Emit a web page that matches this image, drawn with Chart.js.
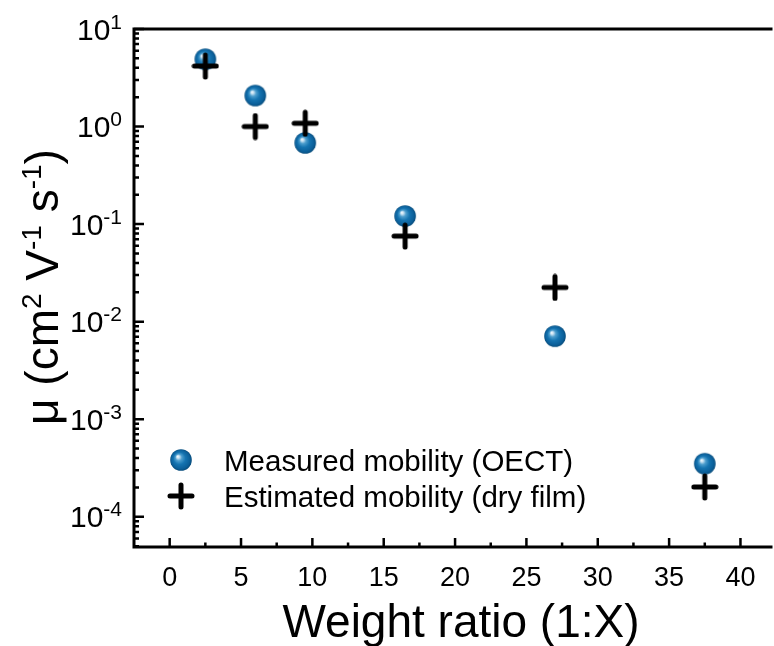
<!DOCTYPE html>
<html>
<head>
<meta charset="utf-8">
<title>Mobility vs weight ratio</title>
<script src="https://cdn.jsdelivr.net/npm/chart.js@4.4.1/dist/chart.umd.min.js"></script>
<style>
  body { margin: 0; background: #fff; }
  canvas { display: block; }
</style>
</head>
<body>
<canvas id="mobility" width="774" height="646"></canvas>
<script>
// weight ratio 1:X and the two mobility series (cm2/Vs)
const ratios = [2.5, 6, 9.5, 16.5, 27, 37.5];
const measured = [4.9, 2.08, 0.68, 0.121, 0.0071, 3.5e-4];
const estimated = [4.17, 1.0, 1.08, 0.0754, 0.0224, 2.02e-4];
const seriesLabels = ['Measured mobility (OECT)', 'Estimated mobility (dry film)'];
const xTicks = [0, 5, 10, 15, 20, 25, 30, 35, 40];
const yExponents = [-4, -3, -2, -1, 0, 1];

const FONT = 'Arial, "Liberation Sans", sans-serif';

// shaded blue ball used as the marker for measured values
function makeSphere() {
  const c = document.createElement('canvas');
  c.width = 24; c.height = 24;
  const g = c.getContext('2d');
  const grad = g.createRadialGradient(8.6, 8.4, 0, 12, 12, 11);
  grad.addColorStop(0, '#f6fbff');
  grad.addColorStop(0.12, '#cde4f3');
  grad.addColorStop(0.3, '#4c9dcd');
  grad.addColorStop(0.55, '#1574b1');
  grad.addColorStop(0.85, '#0b5f99');
  grad.addColorStop(1, '#074a78');
  g.fillStyle = grad;
  g.beginPath();
  g.arc(12, 12, 10.8, 0, Math.PI * 2);
  g.fill();
  return c;
}

// thick plus with rounded ends
function makePlus() {
  const c = document.createElement('canvas');
  c.width = 28; c.height = 28;
  const g = c.getContext('2d');
  g.strokeStyle = '#000';
  g.lineWidth = 5;
  g.lineCap = 'round';
  g.beginPath();
  g.moveTo(3, 14); g.lineTo(25, 14);
  g.moveTo(14, 3); g.lineTo(14, 25);
  g.stroke();
  return c;
}

const sphere = makeSphere();
const plus = makePlus();

// draws a run of [text, size, raise] pieces starting at x, returns end x
function drawRich(ctx, parts, x, y) {
  for (const [txt, size, raise] of parts) {
    ctx.font = size + 'px ' + FONT;
    ctx.fillText(txt, x, y - raise);
    x += ctx.measureText(txt).width;
  }
  return x;
}
function richWidth(ctx, parts) {
  let w = 0;
  for (const [txt, size] of parts) {
    ctx.font = size + 'px ' + FONT;
    w += ctx.measureText(txt).width;
  }
  return w;
}

const frame = {
  id: 'frame',
  beforeDatasetsDraw(chart) {
    const { ctx, chartArea: a, scales: { x, y } } = chart;
    ctx.save();
    ctx.strokeStyle = '#000';
    ctx.fillStyle = '#000';

    // left, bottom and top border
    ctx.lineWidth = 3;
    ctx.lineCap = 'square';
    ctx.beginPath();
    ctx.moveTo(a.right + 2, a.top); ctx.lineTo(a.left, a.top);
    ctx.lineTo(a.left, a.bottom); ctx.lineTo(a.right + 2, a.bottom);
    ctx.stroke();

    // inward ticks on x
    ctx.lineCap = 'butt';
    ctx.lineWidth = 2.5;
    ctx.beginPath();
    for (const v of xTicks) {
      const px = x.getPixelForValue(v);
      ctx.moveTo(px, a.bottom); ctx.lineTo(px, a.bottom - 9);
      const mx = x.getPixelForValue(v + 2.5);
      if (mx < a.right) { ctx.moveTo(mx, a.bottom); ctx.lineTo(mx, a.bottom - 4.5); }
    }
    ctx.stroke();

    // inward ticks on y, decades and log minors
    ctx.beginPath();
    for (let e = -5; e <= 1; e++) {
      for (let m = 1; m <= 9; m++) {
        const v = m * Math.pow(10, e);
        if (v < y.min || v > y.max) continue;
        const py = y.getPixelForValue(v);
        const len = m === 1 ? 10 : 5;
        ctx.moveTo(a.left, py); ctx.lineTo(a.left + len, py);
      }
    }
    ctx.stroke();

    // x tick labels
    ctx.textAlign = 'center';
    ctx.textBaseline = 'alphabetic';
    ctx.font = '27px ' + FONT;
    for (const v of xTicks) {
      ctx.fillText(String(v), x.getPixelForValue(v), 586);
    }

    // y tick labels as 10 with superscript exponent
    ctx.textAlign = 'left';
    for (const e of yExponents) {
      const py = y.getPixelForValue(Math.pow(10, e));
      const parts = [['10', 30, 0], [e < 0 ? '-' + (-e) : String(e), 21, 11]];
      const w = richWidth(ctx, parts);
      drawRich(ctx, parts, 122 - w, py + 10.7);
    }

    // x title
    ctx.font = '46px ' + FONT;
    ctx.textAlign = 'center';
    ctx.fillText('Weight ratio (1:X)', 461, 637);

    // y title, rotated
    ctx.textAlign = 'left';
    const title = [['\u03bc (cm', 46, 0], ['2', 28, 17], [' V', 46, 0], ['-1', 28, 17],
                   [' s', 46, 0], ['-1', 28, 17], [')', 46, 0]];
    const tw = richWidth(ctx, title);
    ctx.translate(58, 287);
    ctx.rotate(-Math.PI / 2);
    drawRich(ctx, title, -tw / 2, 0);
    ctx.restore();
  },
  afterDraw(chart) {
    // legend inside the plot, lower left
    const ctx = chart.ctx;
    ctx.save();
    const marks = [sphere, plus];
    const rows = [460, 496];
    ctx.fillStyle = '#000';
    ctx.font = '29.5px ' + FONT;
    ctx.textAlign = 'left';
    ctx.textBaseline = 'alphabetic';
    seriesLabels.forEach((lab, i) => {
      const m = marks[i];
      ctx.drawImage(m, 181 - m.width / 2, rows[i] - m.height / 2);
      ctx.fillText(lab, 224, rows[i] + 10.5);
    });
    ctx.restore();
  }
};

new Chart(document.getElementById('mobility'), {
  type: 'scatter',
  data: {
    datasets: [
      {
        label: seriesLabels[0],
        data: ratios.map((r, i) => ({ x: r, y: measured[i] })),
        pointStyle: sphere,
        order: 1
      },
      {
        label: seriesLabels[1],
        data: ratios.map((r, i) => ({ x: r, y: estimated[i] })),
        pointStyle: plus,
        order: 0
      }
    ]
  },
  options: {
    responsive: false,
    animation: false,
    devicePixelRatio: 1,
    events: [],
    layout: { padding: { top: 29, left: 0, right: 0, bottom: 0 } },
    plugins: { legend: { display: false }, tooltip: { enabled: false } },
    scales: {
      x: {
        type: 'linear', min: -2.5, max: 42,
        grid: { display: false }, border: { display: false },
        ticks: { display: false },
        afterFit: s => { s.height = 99; }
      },
      y: {
        type: 'logarithmic', min: 4.9e-5, max: 10,
        grid: { display: false }, border: { display: false },
        ticks: { display: false },
        afterFit: s => { s.width = 134; }
      }
    }
  },
  plugins: [frame]
});
</script>
</body>
</html>
